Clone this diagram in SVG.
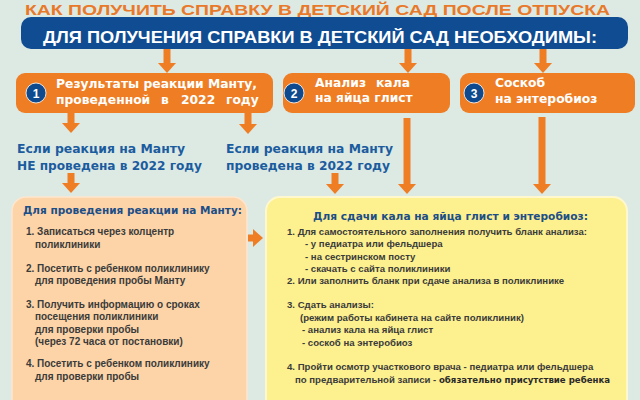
<svg xmlns="http://www.w3.org/2000/svg" width="640" height="400" viewBox="0 0 640 400">
<style>
.title{font-family:"Liberation Sans Narrow","Liberation Sans",sans-serif;font-weight:bold;fill:#e9792a}
.banner{font-family:"Liberation Sans Narrow","Liberation Sans",sans-serif;font-weight:bold;fill:#ffffff;font-size:17px}
.btxt{font-family:"DejaVu Sans",sans-serif;font-weight:bold;fill:#ffffff;font-size:12.3px}
.num{font-family:"Liberation Sans",sans-serif;font-weight:bold;fill:#ffffff;font-size:12px;text-anchor:middle}
.blue{font-family:"DejaVu Sans",sans-serif;font-weight:bold;fill:#1b5c9f;font-size:12.3px}
.head{font-family:"DejaVu Sans",sans-serif;font-weight:bold;fill:#1c4e87;font-size:10.3px}
.item{font-family:"Liberation Sans",sans-serif;font-weight:bold;fill:#3b3b3b;font-size:9.6px}
.iteml{font-family:"Liberation Sans",sans-serif;font-weight:bold;fill:#3b3b3b;font-size:10px}
.strong{font-family:"DejaVu Sans",sans-serif;font-weight:bold;fill:#2a2a2a;font-size:8.6px}
.obox{fill:#ee7d24}
.circ{fill:#0f4a8e;stroke:#ffffff;stroke-width:0.8}
.arr{stroke:#ee7d24;stroke-width:7;fill:none}
</style>
<defs>
<marker id="ah" markerUnits="userSpaceOnUse" viewBox="0 0 10 18" markerWidth="10" markerHeight="18" refX="0" refY="9" orient="auto">
<path d="M0,0 L10,9 L0,18 Z" fill="#ee7d24"/>
</marker>
</defs>
<rect x="0" y="0" width="640" height="400" fill="#dde9e3"/>
<text class="title" x="25" y="14.5" font-size="15.5" textLength="585" lengthAdjust="spacingAndGlyphs">КАК ПОЛУЧИТЬ СПРАВКУ В ДЕТСКИЙ САД ПОСЛЕ ОТПУСКА</text>
<g id="banner">
<rect x="21" y="17" width="607" height="32" rx="10" fill="#0f4c92"/>
<text class="banner" x="43" y="43" textLength="554" lengthAdjust="spacingAndGlyphs">ДЛЯ ПОЛУЧЕНИЯ СПРАВКИ В ДЕТСКИЙ САД НЕОБХОДИМЫ:</text>
</g>
<g id="connectors">
<line class="arr" x1="167" y1="49" x2="167" y2="63" marker-end="url(#ah)"/>
<line class="arr" x1="408" y1="49" x2="408" y2="63" marker-end="url(#ah)"/>
<line class="arr" x1="543" y1="49" x2="543" y2="63" marker-end="url(#ah)"/>
<line class="arr" x1="71" y1="112" x2="71" y2="123" marker-end="url(#ah)"/>
<line class="arr" x1="248" y1="112" x2="248" y2="124" marker-end="url(#ah)"/>
<line class="arr" x1="71" y1="173" x2="71" y2="183" marker-end="url(#ah)"/>
<line class="arr" x1="335" y1="173" x2="335" y2="184" marker-end="url(#ah)"/>
<line class="arr" x1="407" y1="118" x2="407" y2="184" marker-end="url(#ah)"/>
<line class="arr" x1="542" y1="117" x2="542" y2="184" marker-end="url(#ah)"/>
<line class="arr" x1="248" y1="238" x2="253" y2="238" marker-end="url(#ah)"/>
</g>
<g id="node1">
<rect class="obox" x="16" y="73" width="257" height="40" rx="9"/>
<circle class="circ" cx="36" cy="93" r="10"/>
<text class="num" x="36" y="97.5">1</text>
<text class="btxt" x="56" y="88" textLength="201" lengthAdjust="spacingAndGlyphs">Результаты реакции Манту,</text>
<text class="btxt" y="104"><tspan x="56">проведенной</tspan><tspan x="161">в</tspan><tspan x="181">2022</tspan><tspan x="226">году</tspan></text>
</g>
<g id="node2">
<rect class="obox" x="283" y="73" width="167" height="40" rx="9"/>
<circle class="circ" cx="294" cy="93" r="10"/>
<text class="num" x="294" y="97.5">2</text>
<text class="btxt" y="87"><tspan x="315">Анализ</tspan><tspan x="376">кала</tspan></text>
<text class="btxt" x="315" y="102">на яйца глист</text>
</g>
<g id="node3">
<rect class="obox" x="460" y="73" width="175" height="40" rx="9"/>
<circle class="circ" cx="474" cy="93" r="10"/>
<text class="num" x="474" y="97.5">3</text>
<text class="btxt" x="495" y="87">Соскоб</text>
<text class="btxt" x="495" y="103">на энтеробиоз</text>
</g>
<g id="cond1">
<text class="blue" x="17" y="153" textLength="168" lengthAdjust="spacingAndGlyphs">Если реакция на Манту</text>
<text class="blue" x="17" y="170" textLength="185" lengthAdjust="spacingAndGlyphs">НЕ проведена в 2022 году</text>
</g>
<g id="cond2">
<text class="blue" x="226" y="153" textLength="167" lengthAdjust="spacingAndGlyphs">Если реакция на Манту</text>
<text class="blue" x="226" y="170" textLength="164" lengthAdjust="spacingAndGlyphs">проведена в 2022 году</text>
</g>
<g id="mantu">
<rect x="12" y="197" width="235" height="230" rx="14" fill="#fcd4a7" stroke="#fde6cf" stroke-width="1.5"/>
<text class="head" x="23" y="214" textLength="219" lengthAdjust="spacingAndGlyphs">Для проведения реакции на Манту:</text>
<text class="iteml" x="26" y="235">1. Записаться через колцентр</text>
<text class="iteml" x="35" y="248">поликлиники</text>
<text class="iteml" x="26" y="272">2. Посетить с ребенком поликлинику</text>
<text class="iteml" x="35" y="284">для проведения пробы Манту</text>
<text class="iteml" x="26" y="308">3. Получить информацию о сроках</text>
<text class="iteml" x="35" y="320">посещения поликлиники</text>
<text class="iteml" x="35" y="333">для проверки пробы</text>
<text class="iteml" x="35" y="345">(через 72 часа от постановки)</text>
<text class="iteml" x="26" y="367">4. Посетить с ребенком поликлинику</text>
<text class="iteml" x="35" y="380">для проверки пробы</text>
</g>
<g id="analysis">
<rect x="266" y="197" width="361" height="230" rx="14" fill="#fdf08e" stroke="#fff8cf" stroke-width="2"/>
<text class="head" x="450.5" y="220" text-anchor="middle" textLength="275" lengthAdjust="spacingAndGlyphs">Для сдачи кала на яйца глист и энтеробиоз:</text>
<text class="item" x="287" y="235" textLength="300" lengthAdjust="spacingAndGlyphs">1. Для самостоятельного заполнения получить бланк анализа:</text>
<text class="item" x="305" y="247">- у педиатра или фельдшера</text>
<text class="item" x="305" y="260">- на сестринском посту</text>
<text class="item" x="305" y="272">- скачать с сайта поликлиники</text>
<text class="item" x="287" y="284">2. Или заполнить бланк при сдаче анализа в поликлинике</text>
<text class="item" x="287" y="308">3. Сдать анализы:</text>
<text class="item" x="300" y="321">(режим работы кабинета на сайте поликлиник)</text>
<text class="item" x="302" y="333">- анализ кала на яйца глист</text>
<text class="item" x="302" y="346">- соскоб на энтеробиоз</text>
<text class="item" x="287" y="370">4. Пройти осмотр участкового врача - педиатра или фельдшера</text>
<text class="item" x="295" y="383">по предварительной записи - <tspan class="strong">обязательно присутствие ребенка</tspan></text>
</g>
</svg>
